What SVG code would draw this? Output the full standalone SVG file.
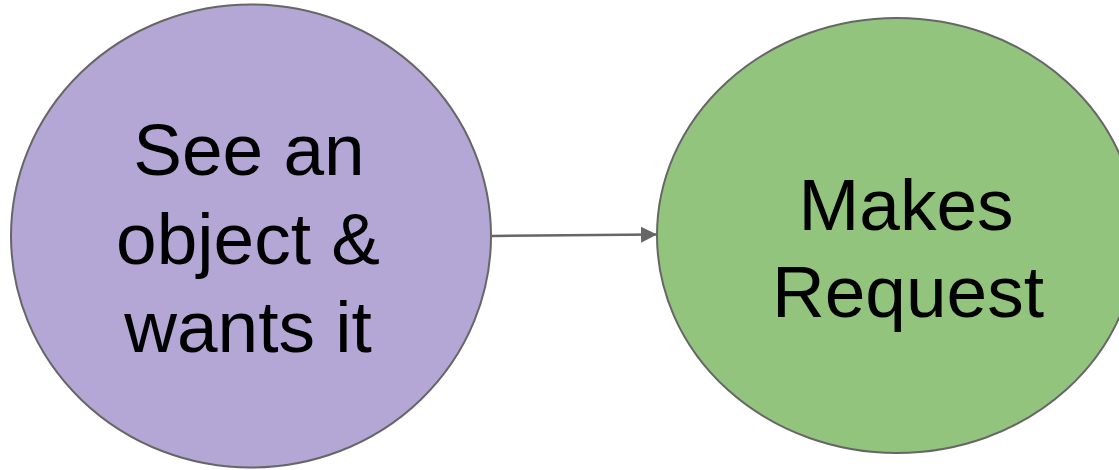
<svg xmlns="http://www.w3.org/2000/svg" width="1119" height="470" viewBox="0 0 1119 470">
  <style>
    .node { stroke: #666666; stroke-width: 2; }
    .label { font-family: "Liberation Sans", Arial, sans-serif; font-size: 73px; fill: #000000; text-anchor: middle; }
    .edge { stroke: #666666; stroke-width: 2.5; fill: none; }
  </style>
  <defs>
    <marker id="arrow" viewBox="0 0 16 16" refX="15" refY="8" markerWidth="16" markerHeight="16" markerUnits="userSpaceOnUse" orient="auto">
      <path d="M0,0 L16,8 L0,16 Z" fill="#666666"/>
    </marker>
  </defs>
  <rect width="1119" height="470" fill="#ffffff"/>
  <g id="node-see">
    <ellipse class="node" cx="251" cy="236" rx="240" ry="231.5" fill="#b4a7d6"/>
    <text class="label" x="249" y="175">See an</text>
    <text class="label" x="248" y="264">object &amp;</text>
    <text class="label" x="248" y="352">wants it</text>
  </g>
  <g id="node-request">
    <ellipse class="node" cx="897" cy="235.5" rx="240" ry="217.5" fill="#93c47d"/>
    <text class="label" x="906" y="230">Makes</text>
    <text class="label" x="908" y="317">Request</text>
  </g>
  <g id="connectors">
    <line class="edge" x1="492" y1="236" x2="656" y2="234.5" marker-end="url(#arrow)"/>
  </g>
</svg>
